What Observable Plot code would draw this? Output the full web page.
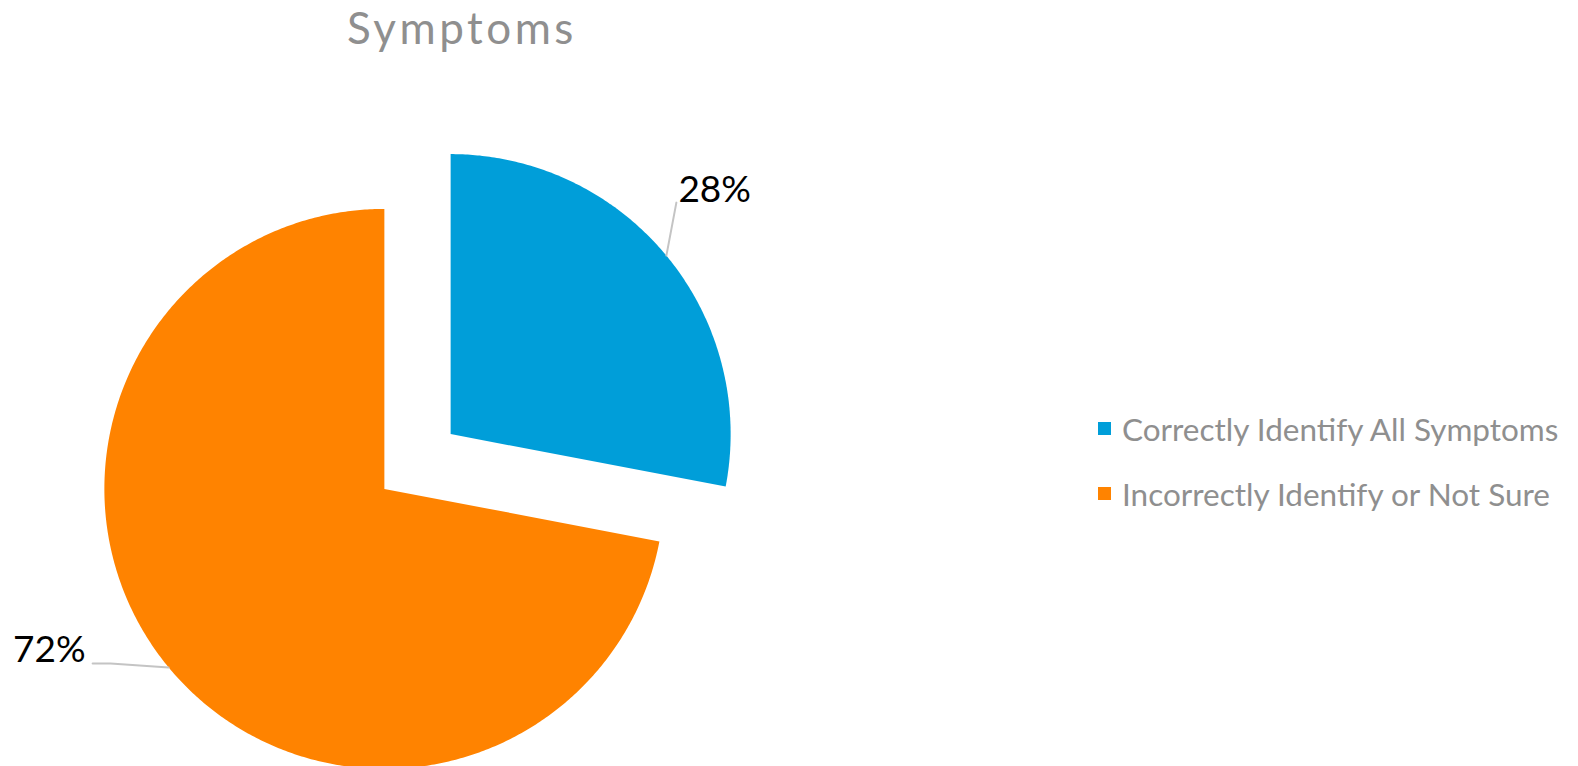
<!DOCTYPE html>
<html>
<head>
<meta charset="utf-8">
<script src="https://cdn.jsdelivr.net/npm/d3@7"></script>
<script src="https://cdn.jsdelivr.net/npm/@observablehq/plot@0.6"></script>
<style>
  html, body { margin: 0; padding: 0; background: #ffffff; }
  #wrap { position: relative; width: 1578px; height: 766px; overflow: hidden; font-family: Lato, "Open Sans", sans-serif; }
  #title { position: absolute; left: 262px; width: 400px; top: 1px; text-align: center; font-size: 44px; letter-spacing: 3.5px; line-height: 1.2; color: #8f8f8f; }
  .lg { position: absolute; left: 1098px; font-size: 31.5px; line-height: 1; color: #8f8f8f; white-space: nowrap; }
  .sw { position: absolute; left: 0; width: 13px; height: 13px; }
  .lt { position: absolute; left: 24px; top: 0; }
</style>
</head>
<body>
<div id="wrap">
  <div id="title"></div>
  <div id="legend"></div>
</div>
<script>
// ---- data ----
const chartTitle = "Symptoms";
const categories = ["Correctly Identify All Symptoms", "Incorrectly Identify or Not Sure"];
const values = [28, 72];
const labels = ["28%", "72%"];
const colors = ["#009ed9", "#ff8300"];

// ---- layout ----
const W = 1578, H = 766;
const cx = 417, cy = 461, R = 280, explode = 43;
const labelLayout = [
  {leader: [[0, 0], [10, -53]], text: [12, -54], anchor: "start"},
  {leader: [[0, 0], [-58, -4], [-76, -4]], text: [-83, -5], anchor: "end"}
];

const arcs = d3.pie().sort(null).startAngle(0).endAngle(2 * Math.PI)(values);

const slicePts = [];
const leaderPts = [];
const labelRows = [];
arcs.forEach((a, i) => {
  const mid = (a.startAngle + a.endAngle) / 2;
  const ox = cx + explode * Math.sin(mid);
  const oy = cy - explode * Math.cos(mid);
  const cat = categories[i];
  slicePts.push({cat, x: ox, y: oy});
  const n = Math.max(8, Math.ceil((a.endAngle - a.startAngle) / (Math.PI / 360)));
  for (let k = 0; k <= n; k++) {
    const t = a.startAngle + (a.endAngle - a.startAngle) * k / n;
    slicePts.push({cat, x: ox + R * Math.sin(t), y: oy - R * Math.cos(t)});
  }
  const ex = ox + R * Math.sin(mid), ey = oy - R * Math.cos(mid);
  const L = labelLayout[i];
  L.leader.forEach(([dx, dy]) => leaderPts.push({cat, x: ex + dx, y: ey + dy}));
  labelRows.push({cat, x: ex + L.text[0], y: ey + L.text[1], text: labels[i], anchor: L.anchor});
});

const chart = Plot.plot({
  width: W,
  height: H,
  margin: 0,
  style: {background: "transparent", overflow: "visible"},
  x: {domain: [0, W], range: [0, W], axis: null},
  y: {domain: [0, H], range: [0, H], axis: null},
  color: {domain: categories, range: colors},
  marks: [
    Plot.line(slicePts, {x: "x", y: "y", z: "cat", fill: "cat", stroke: "none", curve: "linear-closed"}),
    Plot.line(leaderPts, {x: "x", y: "y", z: "cat", stroke: "#c4c4c4", strokeWidth: 2}),
    Plot.text(labelRows.filter(d => d.anchor === "start"), {x: "x", y: "y", text: "text", textAnchor: "start", lineAnchor: "bottom", fontSize: 37, fill: "#000000", fontFamily: "Lato"}),
    Plot.text(labelRows.filter(d => d.anchor === "end"), {x: "x", y: "y", text: "text", textAnchor: "end", lineAnchor: "bottom", fontSize: 37, fill: "#000000", fontFamily: "Lato"})
  ]
});
chart.style.position = "absolute";
chart.style.left = "0px";
chart.style.top = "0px";
document.getElementById("wrap").prepend(chart);

document.getElementById("title").textContent = chartTitle;
const legend = document.getElementById("legend");
const rowTops = [414, 479];
categories.forEach((c, i) => {
  const row = document.createElement("div");
  row.className = "lg";
  row.style.top = rowTops[i] + "px";
  const sw = document.createElement("div");
  sw.className = "sw";
  sw.style.background = colors[i];
  sw.style.top = "8px";
  const t = document.createElement("div");
  t.className = "lt";
  t.textContent = c;
  row.appendChild(sw);
  row.appendChild(t);
  legend.appendChild(row);
});
</script>
</body>
</html>
